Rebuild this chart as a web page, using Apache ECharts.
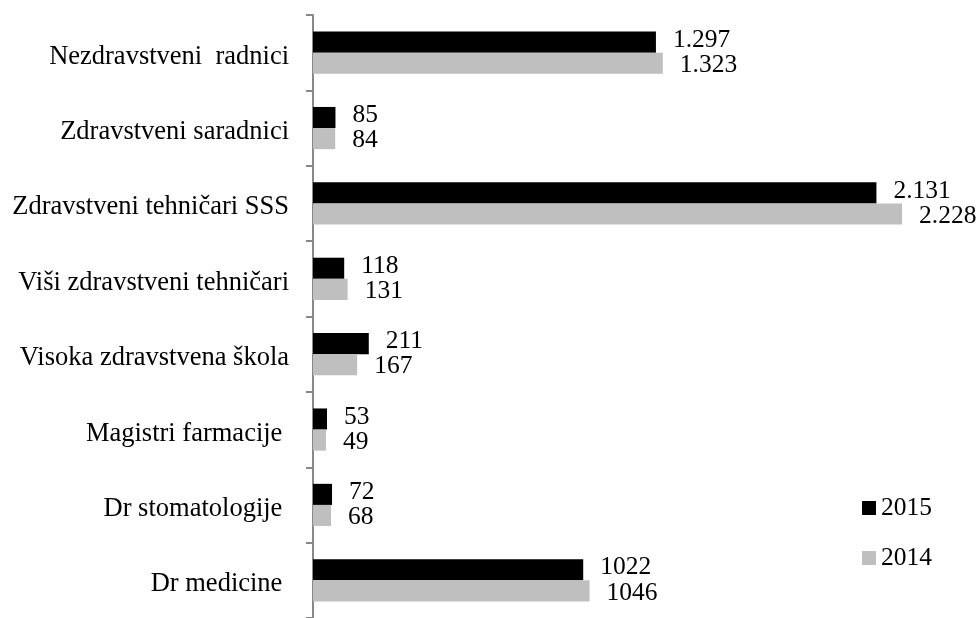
<!DOCTYPE html>
<html><head><meta charset="utf-8">
<script src="https://cdn.jsdelivr.net/npm/echarts@6/dist/echarts.min.js"></script>
<style>html,body{margin:0;padding:0;background:#fff}#c{width:979px;height:618px}</style>
</head><body><div id="c"></div>
<script>
const categories = ["Nezdravstveni  radnici","Zdravstveni saradnici","Zdravstveni tehničari SSS","Viši zdravstveni tehničari","Visoka zdravstvena škola","Magistri farmacije ","Dr stomatologije ","Dr medicine "];
const values2015 = [1297, 85, 2131, 118, 211, 53, 72, 1022];
const values2014 = [1323, 84, 2228, 131, 167, 49, 68, 1046];
const labels2015 = ["1.297","85","2.131","118","211","53","72","1022"];
const labels2014 = ["1.323","84","2.228","131","167","49","68","1046"];
const FONT = '"Liberation Serif", "DejaVu Serif", serif';
const chart = echarts.init(document.getElementById('c'));
chart.setOption({
  animation: false,
  textStyle: {fontFamily: FONT},
  grid: {left: 313, right: 5, top: 15, height: 605, containLabel: false},
  xAxis: {type: 'value', min: 0, max: 2500, show: false},
  yAxis: {type: 'category', inverse: true, data: categories,
    axisLine: {show: true, lineStyle: {color: '#888', width: 2}},
    axisTick: {show: true, inside: false, length: 7, lineStyle: {color: '#888', width: 2}},
    axisLabel: {color: '#000', fontSize: 26.5, fontFamily: FONT, margin: 24,
      formatter: v => '{a|' + v + '}',
      rich: {a: {fontSize: 26.5, fontFamily: FONT, color: '#000', padding: [8, 0, 0, 0]}}}
  },
  legend: {orient: 'vertical', left: 857, top: 490, itemWidth: 14, itemHeight: 14, itemGap: 24,
    icon: 'rect', textStyle: {fontSize: 25.5, fontFamily: FONT, color: '#000'},
    data: ['2015','2014']},
  series: [
    {name: '2015', type: 'bar', data: values2015, barGap: '0%', barCategoryGap: '44%',
     itemStyle: {color: '#000'},
     label: {show: true, position: 'right', distance: 17, offset: [0, -2], color: '#000', fontSize: 25.5, fontFamily: FONT,
       formatter: p => labels2015[p.dataIndex]}},
    {name: '2014', type: 'bar', data: values2014, barGap: '0%', barCategoryGap: '44%',
     itemStyle: {color: '#bfbfbf'},
     label: {show: true, position: 'right', distance: 17, offset: [0, 2], color: '#000', fontSize: 25.5, fontFamily: FONT,
       formatter: p => labels2014[p.dataIndex]}}
  ]
});
</script></body></html>
